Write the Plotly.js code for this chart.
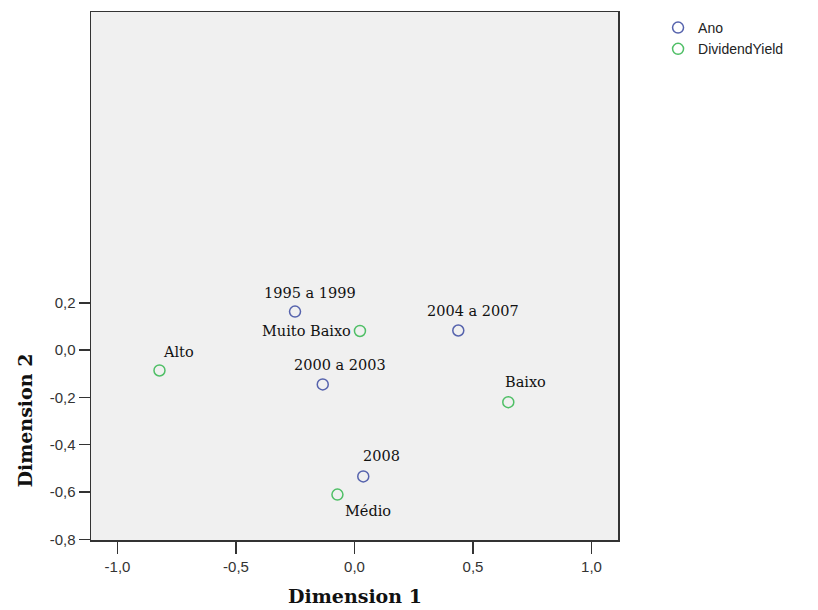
<!DOCTYPE html>
<html>
<head>
<meta charset="utf-8">
<script src="https://cdn.plot.ly/plotly-3.0.1.min.js"></script>
<style>
  html, body { margin: 0; padding: 0; background: #ffffff; }
  #chart { width: 818px; height: 610px; }
</style>
</head>
<body>
<div id="chart"></div>
<script>
// ---- Data ----
const anoLabels = ["1995 a 1999", "2000 a 2003", "2004 a 2007", "2008"];
const anoDim1 = [-0.251, -0.134, 0.438, 0.037];
const anoDim2 = [0.163, -0.145, 0.083, -0.534];

const dyLabels = ["Alto", "Médio", "Baixo", "Muito Baixo"];
const dyDim1 = [-0.823, -0.072, 0.649, 0.023];
const dyDim2 = [-0.086, -0.611, -0.220, 0.081];

const seriesNames = ["Ano", "DividendYield"];

const xTickVals = [-1.0, -0.5, 0.0, 0.5, 1.0];
const xTickText = ["-1,0", "-0,5", "0,0", "0,5", "1,0"];
const yTickVals = [-0.8, -0.6, -0.4, -0.2, 0.0, 0.2];
const yTickText = ["-0,8", "-0,6", "-0,4", "-0,2", "0,0", "0,2"];

const xTitle = "Dimension 1";
const yTitle = "Dimension 2";

// ---- Styling ----
const blue = "#5663ad";
const green = "#4fbf66";
// label placement (pixel offsets relative to point): anchor, xshift, yshift
const labelPlacement = {
  "1995 a 1999": ["left", -33, 19],
  "2000 a 2003": ["left", -31, 19],
  "2004 a 2007": ["left", -33, 20],
  "2008": ["left", -2, 20],
  "Alto": ["left", 2, 18],
  "Médio": ["left", 6, -16],
  "Baixo": ["left", -5, 20],
  "Muito Baixo": ["right", -7, 0]
};
const labelFont = { family: "DejaVu Serif, Liberation Serif, serif", size: 14.5, color: "#111" };

function makeLabels(labels, xs, ys) {
  return labels.map((t, i) => {
    const p = labelPlacement[t];
    return {
      x: xs[i], y: ys[i], xref: "x", yref: "y",
      text: t, showarrow: false,
      xanchor: p[0], yanchor: "middle",
      xshift: p[1], yshift: p[2],
      font: labelFont
    };
  });
}

const traces = [
  {
    type: "scatter", mode: "markers", name: seriesNames[0],
    x: anoDim1, y: anoDim2,
    marker: { symbol: "circle-open", size: 11, color: blue, line: { width: 1.5, color: blue } },
    hoverinfo: "skip"
  },
  {
    type: "scatter", mode: "markers", name: seriesNames[1],
    x: dyDim1, y: dyDim2,
    marker: { symbol: "circle-open", size: 11, color: green, line: { width: 1.5, color: green } },
    hoverinfo: "skip"
  }
];

const tickFont = { family: "Liberation Sans, Arial, sans-serif", size: 15, color: "#333" };
const titleFont = { family: "DejaVu Serif, Liberation Serif, serif", size: 19, color: "#111", weight: "bold" };

const annotations = []
  .concat(makeLabels(anoLabels, anoDim1, anoDim2))
  .concat(makeLabels(dyLabels, dyDim1, dyDim2))
  .concat([
    {
      text: "<b>" + xTitle + "</b>", xref: "paper", yref: "paper",
      x: 0.5, y: -0.106, xanchor: "center", yanchor: "middle",
      showarrow: false, font: titleFont
    },
    {
      text: "<b>" + yTitle + "</b>", xref: "paper", yref: "paper",
      x: -0.1245, y: 0.227, xanchor: "center", yanchor: "middle",
      textangle: -90, showarrow: false, font: titleFont
    }
  ]);

const layout = {
  width: 818, height: 610,
  margin: { l: 91, r: 200, t: 12, b: 70, pad: 0 },
  paper_bgcolor: "#ffffff",
  plot_bgcolor: "#f0f0f0",
  showlegend: true,
  legend: {
    x: 1.076, xanchor: "left", y: 1.0, yanchor: "top",
    font: { family: "Liberation Sans, Arial, sans-serif", size: 14, color: "#222" },
    bgcolor: "rgba(0,0,0,0)", borderwidth: 0,
    tracegroupgap: 0
  },
  xaxis: {
    range: [-1.112, 1.112],
    tickmode: "array", tickvals: xTickVals, ticktext: xTickText,
    ticks: "outside", ticklen: 12, tickwidth: 1.5, tickcolor: "#333",
    showline: true, mirror: true, linecolor: "#333", linewidth: 1.5,
    showgrid: false, zeroline: false,
    tickfont: tickFont, fixedrange: true
  },
  yaxis: {
    range: [-0.803, 1.43],
    tickmode: "array", tickvals: yTickVals, ticktext: yTickText,
    ticks: "outside", ticklen: 11, tickwidth: 1.5, tickcolor: "#333",
    showline: true, mirror: true, linecolor: "#333", linewidth: 1.5,
    showgrid: false, zeroline: false,
    tickfont: tickFont, fixedrange: true
  },
  annotations: annotations
};

Plotly.newPlot("chart", traces, layout, { displayModeBar: false, staticPlot: true });
</script>
</body>
</html>
